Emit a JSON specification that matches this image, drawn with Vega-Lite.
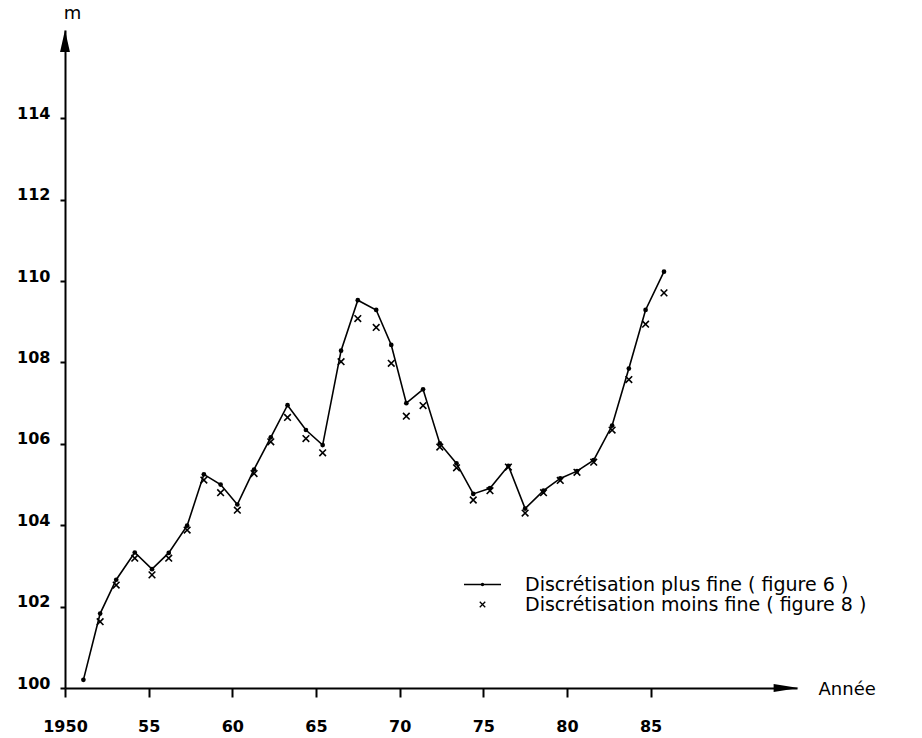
{
  "$schema": "https://vega.github.io/schema/vega-lite/v6.json",
  "autosize": "none",
  "width": 732,
  "height": 658,
  "padding": {"left": 65, "top": 30, "right": 125, "bottom": 50},
  "background": "white",
  "config": {"view": {"stroke": null}},
  "data": {
    "values": [
      {"annee": 1951.1, "fine": 100.2, "moins": null},
      {"annee": 1952.1, "fine": 101.83, "moins": 101.63},
      {"annee": 1953.06, "fine": 102.66, "moins": 102.53},
      {"annee": 1954.17, "fine": 103.33, "moins": 103.19},
      {"annee": 1955.2, "fine": 102.92, "moins": 102.78},
      {"annee": 1956.2, "fine": 103.32, "moins": 103.19},
      {"annee": 1957.3, "fine": 103.99, "moins": 103.88},
      {"annee": 1958.3, "fine": 105.25, "moins": 105.11},
      {"annee": 1959.3, "fine": 105.0, "moins": 104.8},
      {"annee": 1960.3, "fine": 104.51, "moins": 104.37},
      {"annee": 1961.3, "fine": 105.37, "moins": 105.27},
      {"annee": 1962.3, "fine": 106.16, "moins": 106.05},
      {"annee": 1963.3, "fine": 106.95, "moins": 106.65},
      {"annee": 1964.4, "fine": 106.34, "moins": 106.13},
      {"annee": 1965.4, "fine": 105.97, "moins": 105.78},
      {"annee": 1966.5, "fine": 108.29, "moins": 108.02},
      {"annee": 1967.5, "fine": 109.53, "moins": 109.08},
      {"annee": 1968.6, "fine": 109.29, "moins": 108.86},
      {"annee": 1969.5, "fine": 108.43, "moins": 107.98},
      {"annee": 1970.4, "fine": 107.0, "moins": 106.68},
      {"annee": 1971.4, "fine": 107.34, "moins": 106.94},
      {"annee": 1972.4, "fine": 106.01, "moins": 105.92},
      {"annee": 1973.4, "fine": 105.52, "moins": 105.41},
      {"annee": 1974.4, "fine": 104.77, "moins": 104.62},
      {"annee": 1975.4, "fine": 104.91, "moins": 104.85},
      {"annee": 1976.5, "fine": 105.46, "moins": 105.43},
      {"annee": 1977.5, "fine": 104.41, "moins": 104.3},
      {"annee": 1978.6, "fine": 104.85, "moins": 104.8},
      {"annee": 1979.6, "fine": 105.15, "moins": 105.1},
      {"annee": 1980.6, "fine": 105.33, "moins": 105.3},
      {"annee": 1981.6, "fine": 105.6, "moins": 105.55},
      {"annee": 1982.7, "fine": 106.45, "moins": 106.34},
      {"annee": 1983.7, "fine": 107.85, "moins": 107.58},
      {"annee": 1984.7, "fine": 109.29, "moins": 108.94},
      {"annee": 1985.8, "fine": 110.23, "moins": 109.71}
    ]
  },
  "layer": [
    {
      "mark": {"type": "line", "color": "black", "strokeWidth": 1.6},
      "encoding": {
        "x": {
          "field": "annee", "type": "quantitative",
          "scale": {"domain": [1950, 1993.75], "nice": false, "zero": false},
          "axis": {
            "values": [1950, 1955, 1960, 1965, 1970, 1975, 1980, 1985],
            "format": "d",
            "labelExpr": "datum.value == 1950 ? datum.label : substring(datum.label, 2)",
            "grid": false,
            "domainColor": "black", "domainWidth": 2,
            "tickColor": "black", "tickWidth": 2, "tickSize": 9,
            "labelFont": "DejaVu Sans", "labelFontWeight": "bold", "labelFontSize": 16,
            "labelColor": "black", "labelPadding": 21, "labelFlush": false,
            "title": "Année",
            "titleFont": "DejaVu Sans", "titleFontWeight": "normal", "titleFontSize": 18,
            "titleColor": "black", "titleAngle": 0, "titleAlign": "left",
            "titleBaseline": "alphabetic", "titleX": 753, "titleY": 6
          }
        },
        "y": {
          "field": "fine", "type": "quantitative",
          "scale": {"domain": [100, 116.17], "nice": false, "zero": false},
          "axis": {
            "values": [100, 102, 104, 106, 108, 110, 112, 114],
            "grid": false,
            "domainColor": "black", "domainWidth": 2,
            "tickColor": "black", "tickWidth": 2, "tickSize": 5,
            "labelFont": "DejaVu Sans", "labelFontWeight": "bold", "labelFontSize": 16,
            "labelColor": "black", "labelPadding": 10, "labelBaseline": "alphabetic",
            "labelFlush": false,
            "title": "m",
            "titleFont": "DejaVu Sans", "titleFontWeight": "normal", "titleFontSize": 18,
            "titleColor": "black", "titleAngle": 0, "titleAlign": "center",
            "titleBaseline": "alphabetic", "titleX": 7, "titleY": -12
          }
        }
      }
    },
    {
      "mark": {"type": "point", "shape": "circle", "filled": true, "color": "black", "size": 22, "opacity": 1},
      "encoding": {
        "x": {"field": "annee", "type": "quantitative"},
        "y": {"field": "fine", "type": "quantitative"}
      }
    },
    {
      "mark": {"type": "point", "shape": "M-1,-1L1,1M-1,1L1,-1", "filled": false, "stroke": "black", "strokeWidth": 1.6, "size": 44, "opacity": 1},
      "encoding": {
        "x": {"field": "annee", "type": "quantitative"},
        "y": {"field": "moins", "type": "quantitative"}
      }
    },
    {
      "transform": [{"fold": ["fine", "moins"], "as": ["serie", "m"]}, {"filter": "false"}],
      "mark": {"type": "point", "filled": false, "stroke": "black", "strokeWidth": 1.3, "opacity": 1},
      "encoding": {
        "x": {"field": "annee", "type": "quantitative"},
        "y": {"field": "m", "type": "quantitative"},
        "shape": {
          "field": "serie", "type": "nominal",
          "scale": {
            "domain": ["fine", "moins"],
            "range": ["M-3.7,0L3.7,0M-0.22,0A0.22,0.22,0,1,1,0.22,0A0.22,0.22,0,1,1,-0.22,0Z", "M-0.55,-0.55L0.55,0.55M-0.55,0.55L0.55,-0.55"]
          },
          "legend": {
            "title": null,
            "orient": "none",
            "legendX": 408,
            "legendY": 545,
            "padding": 0,
            "symbolSize": 100,
            "symbolStrokeColor": "black",
            "symbolStrokeWidth": 1.3,
            "symbolOpacity": 1,
            "labelOffset": 33,
            "labelFont": "DejaVu Sans",
            "labelFontSize": 19,
            "labelColor": "black",
            "labelLimit": 0,
            "rowPadding": 0,
            "labelExpr": "datum.value == 'fine' ? 'Discrétisation plus fine ( figure 6 )' : 'Discrétisation moins fine ( figure 8 )'"
          }
        }
      }
    },
    {
      "data": {"values": [{}]},
      "mark": {"type": "point", "shape": "M-1,-0.32L1,0L-1,0.32Z", "size": 625, "filled": true, "color": "black", "opacity": 1},
      "encoding": {
        "x": {"datum": 1993.1, "type": "quantitative"},
        "y": {"datum": 100, "type": "quantitative"}
      }
    },
    {
      "data": {"values": [{}]},
      "mark": {"type": "point", "shape": "M-0.45,1L0,-1L0.45,1Z", "size": 484, "filled": true, "color": "black", "opacity": 1},
      "encoding": {
        "x": {"datum": 1950, "type": "quantitative"},
        "y": {"datum": 115.9, "type": "quantitative"}
      }
    }
  ]
}
